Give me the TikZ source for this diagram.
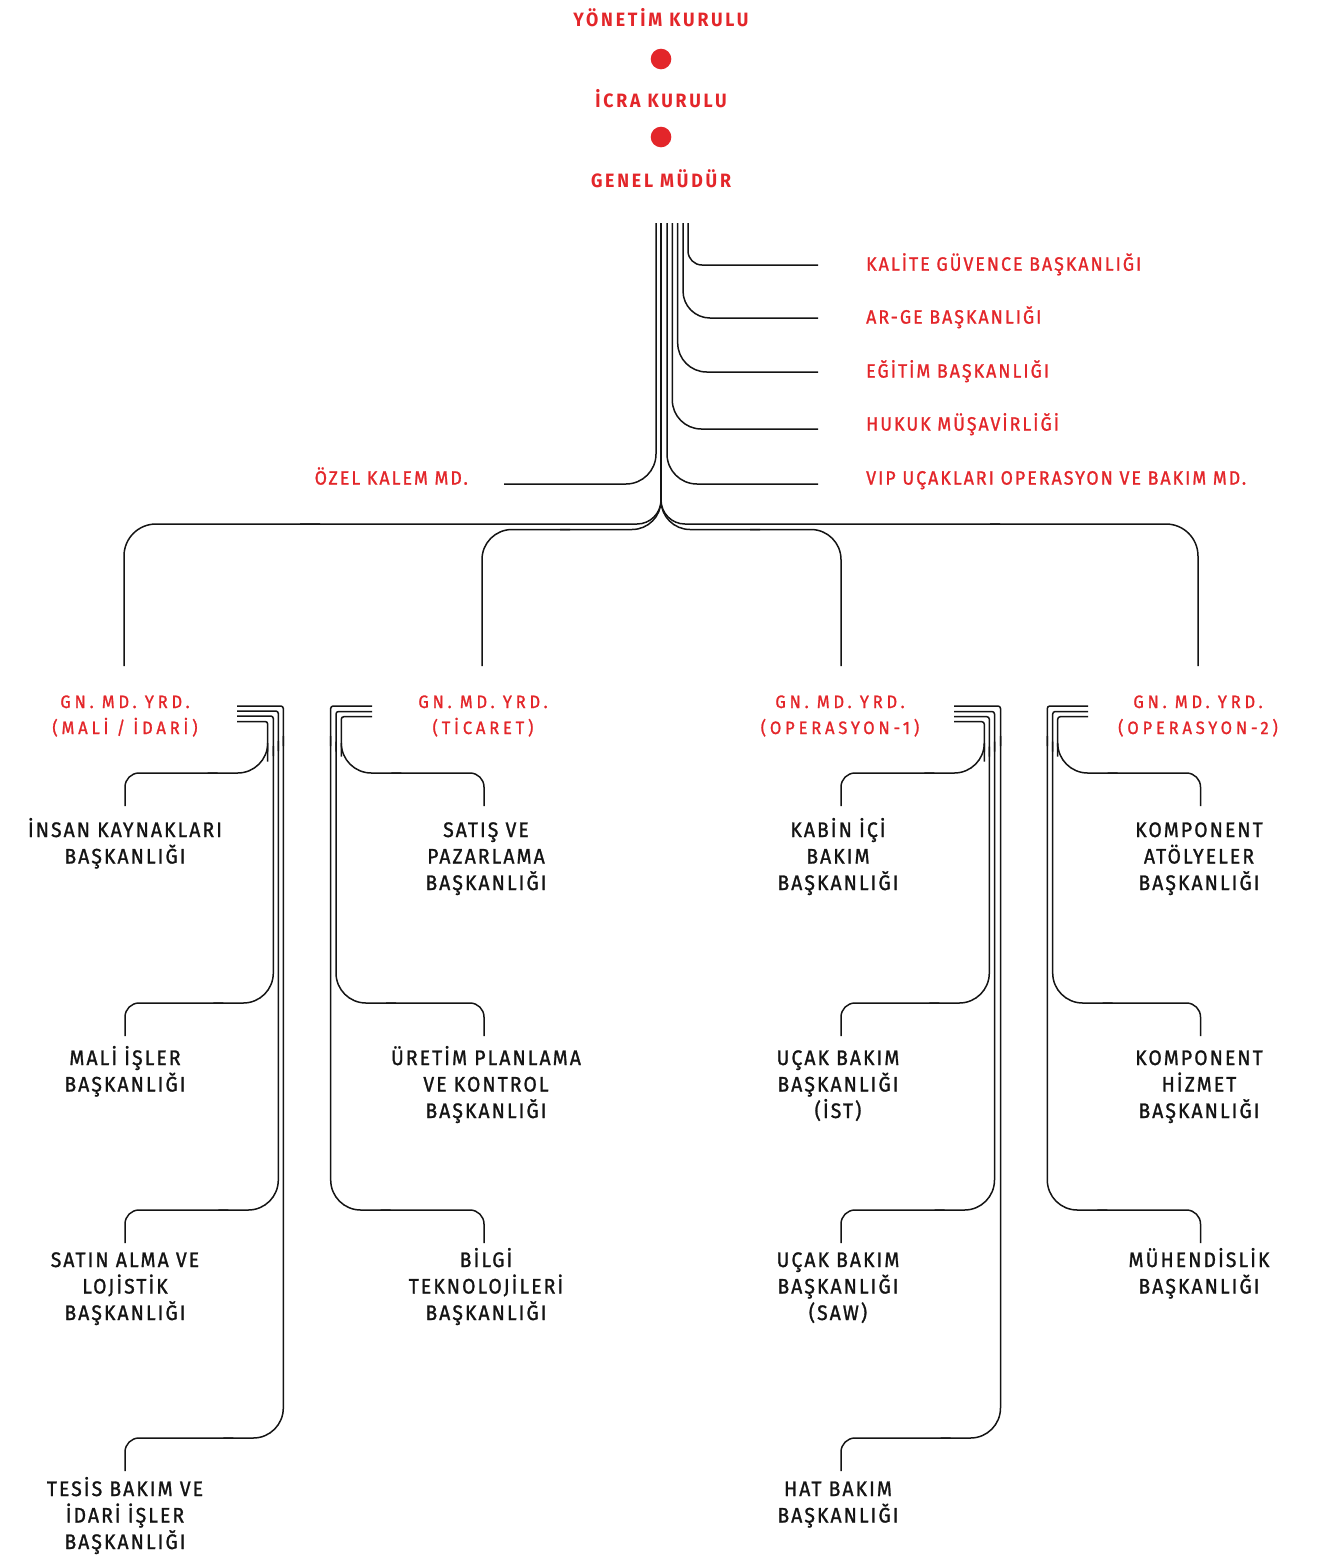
\documentclass[tikz,border=0pt]{standalone}
\usepackage{fontspec}
\setmainfont{Fira Sans}
\newfontfamily\hdfont[FakeStretch=0.92,LetterSpace=14.5]{Fira Sans}
\newfontfamily\labfont[FakeStretch=0.92,LetterSpace=10.5,FakeBold=1.2]{Fira Sans}
\newfontfamily\chfont[FakeStretch=0.92,LetterSpace=10,FakeBold=1.2]{Fira Sans}
\newfontfamily\gnfont[FakeStretch=0.92,LetterSpace=21.5,FakeBold=1.2]{Fira Sans}
\definecolor{tkred}{HTML}{E3262A}
\definecolor{tkink}{HTML}{141414}
\begin{document}
\begin{tikzpicture}[x=1pt,y=-1pt,
  ln/.style={draw=tkink, line width=1.5pt},
  hd/.style={text=tkred, font=\hdfont\bfseries\fontsize{19.3}{23}\selectfont, inner sep=0pt, anchor=base},
  rl/.style={text=tkred, font=\labfont\fontsize{19.3}{23}\selectfont, inner sep=0pt, anchor=base west},
  rr/.style={text=tkred, font=\labfont\fontsize{19.3}{23}\selectfont, inner sep=0pt, anchor=base east},
  gn/.style={text=tkred, font=\gnfont\fontsize{17.9}{26}\selectfont, inner sep=0pt, anchor=base, align=center},
  ch/.style={text=tkink, font=\chfont\fontsize{21}{26.5}\selectfont, inner sep=0pt, anchor=base, align=center},
  dotc/.style={circle, fill=tkred, minimum size=20.6pt, inner sep=0pt}]
\useasboundingbox (0,0) rectangle (1322,1559);

% top
\node[hd] (yk) at (661,26.7) {YÖNETİM KURULU};
\node[dotc] (d1) at (661,59) {};
\node[hd] (icra) at (661,107) {İCRA KURULU};
\node[dotc] (d2) at (661,137) {};
\node[hd] (gm) at (661,187) {GENEL MÜDÜR};

% right staff labels
\node[rl] (kalite) at (866,270.7) {KALİTE GÜVENCE BAŞKANLIĞI};
\node[rl] (arge) at (866,323.6) {AR-GE BAŞKANLIĞI};
\node[rl] (egitim) at (866,377.6) {EĞİTİM BAŞKANLIĞI};
\node[rl] (hukuk) at (866,430.6) {HUKUK MÜŞAVİRLİĞİ};
\node[rl] (vip) at (866,484.6) {VIP UÇAKLARI OPERASYON VE BAKIM MD.};
\node[rr] (ozel) at (468,484.6) {ÖZEL KALEM MD.};

% connector ends
\coordinate (eK) at (818,265);
\coordinate (eA) at (818,318);
\coordinate (eE) at (818,372);
\coordinate (eH) at (818,429);
\coordinate (eV) at (818,484);
\coordinate (eO) at (504,484);

% trunk bundle
\draw[ln, rounded corners=14] (688,223) |- (eK);
\draw[ln, rounded corners=27] (683,223) |- (eA);
\draw[ln, rounded corners=29] (677.7,223) |- (eE);
\draw[ln, rounded corners=29] (672.3,223) |- (eH);
\draw[ln, rounded corners=30] (667,223) |- (eV);
\draw[ln, rounded corners=30] (656,223) |- (eO);
\draw[ln] (661,223) -- (661,500);

% vice general manager labels (anchor = baseline of last line)
\node[gn] (g1) at (125,734) {GN. MD. YRD.\\(MALİ / İDARİ)};
\node[gn] (g2) at (483,734) {GN. MD. YRD.\\(TİCARET)};
\node[gn] (g3) at (840,734) {GN. MD. YRD.\\(OPERASYON-1)};
\node[gn] (g4) at (1198,734) {GN. MD. YRD.\\(OPERASYON-2)};

\coordinate (v1) at (124,666);
\coordinate (v2) at (482,666);
\coordinate (v3) at (841,666);
\coordinate (v4) at (1198,666);

% branches to vice general managers
\draw[ln, rounded corners=24] (661,470) |- (300,524);
\draw[ln, rounded corners=32] (320,524) -| (v1);
\draw[ln, rounded corners=29] (661,470) |- (560,529.5);
\draw[ln, rounded corners=30] (570,529.5) -| (v2);
\draw[ln, rounded corners=29] (661,470) |- (760,529.5);
\draw[ln, rounded corners=30] (750,529.5) -| (v3);
\draw[ln, rounded corners=24] (661,470) |- (1000,524);
\draw[ln, rounded corners=32] (990,524) -| (v4);

% departments (anchor = baseline of last line)
\node[ch] (c11) at (125,863.5) {İNSAN KAYNAKLARI\\BAŞKANLIĞI};
\node[ch] (c12) at (125,1091.5) {MALİ İŞLER\\BAŞKANLIĞI};
\node[ch] (c13) at (125,1320) {SATIN ALMA VE\\LOJİSTİK\\BAŞKANLIĞI};
\node[ch] (c14) at (125,1549) {TESİS BAKIM VE\\İDARİ İŞLER\\BAŞKANLIĞI};
\node[ch] (c21) at (486,890) {SATIŞ VE\\PAZARLAMA\\BAŞKANLIĞI};
\node[ch] (c22) at (486,1118) {ÜRETİM PLANLAMA\\VE KONTROL\\BAŞKANLIĞI};
\node[ch] (c23) at (486,1320) {BİLGİ\\TEKNOLOJİLERİ\\BAŞKANLIĞI};
\node[ch] (c31) at (838,890) {KABİN İÇİ\\BAKIM\\BAŞKANLIĞI};
\node[ch] (c32) at (838,1118) {UÇAK BAKIM\\BAŞKANLIĞI\\(İST)};
\node[ch] (c33) at (838,1320) {UÇAK BAKIM\\BAŞKANLIĞI\\(SAW)};
\node[ch] (c34) at (838,1522.5) {HAT BAKIM\\BAŞKANLIĞI};
\node[ch] (c41) at (1199,890) {KOMPONENT\\ATÖLYELER\\BAŞKANLIĞI};
\node[ch] (c42) at (1199,1118) {KOMPONENT\\HİZMET\\BAŞKANLIĞI};
\node[ch] (c43) at (1199,1293.5) {MÜHENDİSLİK\\BAŞKANLIĞI};

% group 1 (stubs to the right, children at x=125)
\foreach \s/\c/\t in {706/283.3/1438, 711/278.3/1210, 716/273.3/1003, 721.5/267.7/773}{
  \draw[ln, rounded corners=2.5] (237,\s) -| (\c,\s+40);
  \draw[ln, rounded corners=30] (\c,\s+30) |- (\c-60,\t);
  \draw[ln, rounded corners=14] (\c-50,\t) -| (125,\t+33);
}
% group 2 (stubs to the left, children at x=484)
\foreach \s/\c/\t in {706/330.7/1210, 711.5/336/1003, 716.7/341.3/773}{
  \draw[ln, rounded corners=2.5] (372,\s) -| (\c,\s+40);
  \draw[ln, rounded corners=30] (\c,\s+30) |- (\c+60,\t);
  \draw[ln, rounded corners=14] (\c+50,\t) -| (484,\t+33);
}
% group 3 (stubs to the right, children at x=841)
\foreach \s/\c/\t in {706/1000.5/1438, 711.5/994.5/1210, 716.7/989.3/1003, 721.7/984.3/773}{
  \draw[ln, rounded corners=2.5] (954,\s) -| (\c,\s+40);
  \draw[ln, rounded corners=30] (\c,\s+30) |- (\c-60,\t);
  \draw[ln, rounded corners=14] (\c-50,\t) -| (841,\t+33);
}
% group 4 (stubs to the left, children at x=1200)
\foreach \s/\c/\t in {706/1047.3/1210, 711.5/1052.7/1003, 716.7/1057.7/773}{
  \draw[ln, rounded corners=2.5] (1088,\s) -| (\c,\s+40);
  \draw[ln, rounded corners=30] (\c,\s+30) |- (\c+60,\t);
  \draw[ln, rounded corners=14] (\c+50,\t) -| (1200.5,\t+33);
}
\end{tikzpicture}
\end{document}
